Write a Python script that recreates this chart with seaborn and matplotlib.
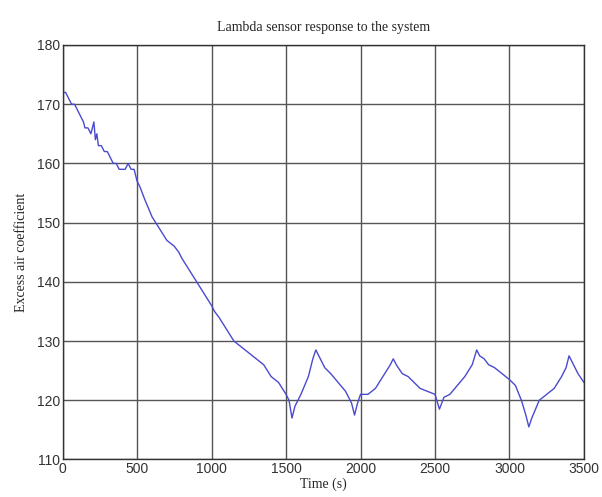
import matplotlib
matplotlib.use("Agg")
import matplotlib.pyplot as plt
import seaborn as sns
import pandas as pd

# Data (time in s, excess air coefficient)
time_s = [0, 20, 40, 60, 80, 100, 120, 140, 150, 170, 190, 200, 210, 220, 230,
          240, 260, 280, 300, 320, 340, 360, 380, 400, 420, 440, 460, 480, 490,
          500, 520, 550, 600, 650, 700, 750, 780, 800, 850, 900, 950, 1000,
          1020, 1050, 1100, 1150, 1200, 1250, 1300, 1350, 1400, 1450, 1500,
          1520, 1540, 1560, 1600, 1650, 1680, 1700, 1730, 1760, 1800, 1850,
          1900, 1940, 1960, 1980, 2000, 2050, 2100, 2150, 2200, 2220, 2240,
          2280, 2320, 2360, 2400, 2450, 2500, 2530, 2560, 2600, 2650, 2700,
          2750, 2780, 2800, 2830, 2860, 2900, 2950, 3000, 3040, 3080, 3110,
          3130, 3150, 3200, 3250, 3300, 3350, 3380, 3400, 3430, 3460, 3500]
excess_air = [172, 172, 171, 170, 170, 169, 168, 167, 166, 166, 165, 166, 167, 164, 165,
              163, 163, 162, 162, 161, 160, 160, 159, 159, 159, 160, 159, 159, 158,
              157, 156, 154, 151, 149, 147, 146, 145, 144, 142, 140, 138, 136,
              135, 134, 132, 130, 129, 128, 127, 126, 124, 123, 121,
              120, 117, 119, 121, 124, 127, 128.5, 127, 125.5, 124.5, 123,
              121.5, 119.5, 117.5, 119.5, 121, 121, 122, 124, 126, 127, 126,
              124.5, 124, 123, 122, 121.5, 121, 118.5, 120.5, 121, 122.5, 124,
              126, 128.5, 127.5, 127, 126, 125.5, 124.5, 123.5, 122.5, 120, 117.5,
              115.5, 117, 120, 121, 122, 124, 125.5, 127.5, 126, 124.5, 123]

df = pd.DataFrame({"Time (s)": time_s, "Excess air coefficient": excess_air})

sns.set_style("white")
fig = plt.figure(figsize=(6.02, 4.97), dpi=100)
ax = fig.add_axes([0.104, 0.0755, 0.866, 0.834])

sns.lineplot(data=df, x="Time (s)", y="Excess air coefficient", ax=ax,
             color="#4a4ad0", linewidth=1.0)

ax.set_xlim(0, 3500)
ax.set_ylim(110, 180)
ax.set_xticks(range(0, 3501, 500))
ax.set_yticks(range(110, 181, 10))
ax.grid(True, color="#555555", linewidth=1.0)
ax.tick_params(direction="in", length=3, labelsize=10, colors="#333333", pad=2)
for lbl in ax.get_xticklabels() + ax.get_yticklabels():
    lbl.set_fontfamily("Liberation Sans")
for s in ax.spines.values():
    s.set_color("#333333")
    s.set_linewidth(1.0)

ax.set_xlabel("Time (s)", fontfamily="Liberation Serif", fontsize=10, labelpad=1)
ax.set_ylabel("Excess air coefficient", fontfamily="Liberation Serif", fontsize=10, labelpad=6)
ax.set_title("Lambda sensor response to the system", fontfamily="Liberation Serif",
             fontsize=10, pad=10)

fig.savefig("out.png", dpi=100)
plt.close(fig)
